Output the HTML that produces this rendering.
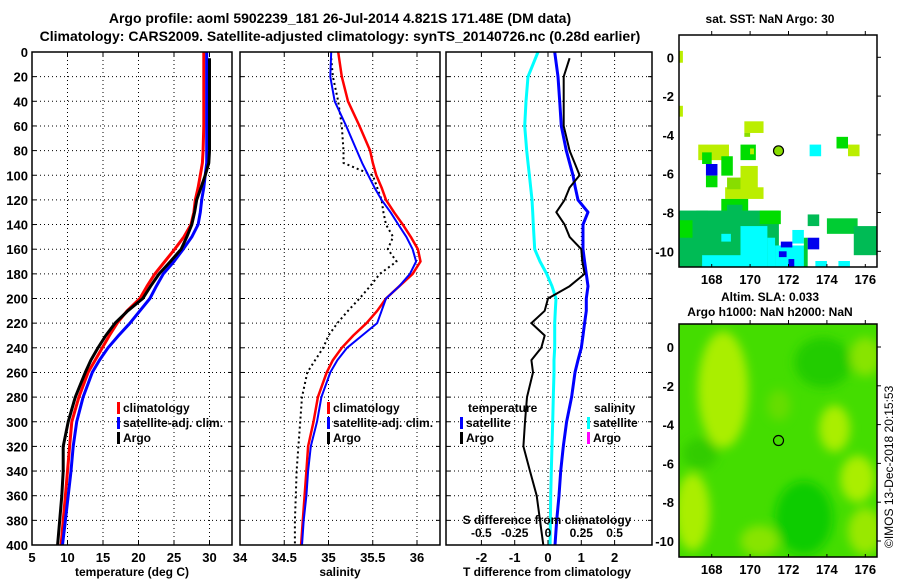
<!DOCTYPE html>
<html><head><meta charset="utf-8"><style>
body{margin:0;background:#fff}
svg{display:block;font-family:"Liberation Sans",sans-serif;font-weight:bold}
</style></head><body>
<svg id="fig" width="900" height="580" viewBox="0 0 900 580">
<rect width="900" height="580" fill="#fff"/>
<text x="340" y="23" font-size="14" text-anchor="middle">Argo profile: aoml 5902239_181 26-Jul-2014 4.821S 171.48E (DM data)</text>
<text x="340" y="41" font-size="14" text-anchor="middle">Climatology: CARS2009. Satellite-adjusted climatology: synTS_20140726.nc (0.28d earlier)</text>
<text x="770" y="23" font-size="12" text-anchor="middle">sat. SST: NaN Argo: 30</text>
<text x="770" y="301" font-size="12" text-anchor="middle">Altim. SLA: 0.033</text>
<text x="770" y="316" font-size="12" text-anchor="middle">Argo h1000: NaN h2000: NaN</text>
<text transform="translate(893,548) rotate(-90)" font-size="12" font-weight="normal">©IMOS 13-Dec-2018 20:15:53</text>
<g id="g"></g>
</svg>
<script>
// ---- data ----
const depths = [0,20,40,60,80,90,100,110,120,130,140,150,160,170,180,190,200,210,220,230,240,250,260,280,300,320,340,360,380,400];
const argoT = [30.0,30.0,30.0,30.0,30.0,29.9,29.4,28.8,28.2,27.9,27.5,26.8,26.0,24.5,22.9,21.7,20.6,18.5,16.7,15.4,14.3,13.3,12.5,11.1,10.1,9.4,9.4,9.2,8.9,8.6];
const climT = [29.2,29.2,29.2,29.2,29.1,29.0,28.7,28.4,28.0,27.8,27.4,26.4,25.1,23.7,22.3,21.2,20.2,18.4,17.0,15.9,14.9,13.9,12.9,11.6,10.6,10.3,10.0,9.7,9.4,9.1];
const satT = [29.6,29.6,29.6,29.6,29.6,29.6,29.4,29.2,28.9,28.7,28.4,27.5,26.3,25.0,23.5,22.5,21.6,20.2,18.8,17.2,15.7,14.5,13.5,12.2,11.3,10.8,10.5,10.1,9.7,9.3];
const climS = [35.11,35.15,35.22,35.35,35.47,35.5,35.54,35.6,35.65,35.74,35.84,35.93,36.01,36.04,35.95,35.8,35.65,35.55,35.43,35.28,35.15,35.05,34.98,34.88,34.83,34.77,34.75,34.73,34.71,34.69];
const satS = [35.03,35.02,35.07,35.2,35.32,35.38,35.45,35.52,35.6,35.7,35.79,35.88,35.95,35.99,35.92,35.8,35.65,35.6,35.55,35.38,35.21,35.1,35.02,34.92,34.87,34.8,34.77,34.75,34.72,34.7];
const argoS = [35.03,35.05,35.11,35.15,35.17,35.17,35.5,35.55,35.6,35.62,35.65,35.73,35.67,35.77,35.58,35.47,35.35,35.22,35.1,35.0,34.94,34.85,34.76,34.7,34.68,34.66,34.64,34.63,34.62,34.62];
const argoTdiff = [0.65,0.47,0.47,0.47,0.65,0.8,0.95,0.65,0.5,0.25,0.5,0.65,1.0,1.03,1.1,0.65,0.0,-0.1,-0.5,-0.1,-0.2,-0.5,-0.45,-0.63,-0.69,-0.74,-0.54,-0.34,-0.24,-0.14];
const satTdiff = [0.2,0.3,0.35,0.4,0.55,0.65,0.75,0.82,0.9,1.2,1.05,1.05,1.05,1.1,1.15,1.2,1.15,1.15,1.1,1.05,1.0,0.9,0.81,0.71,0.56,0.46,0.38,0.33,0.26,0.21];
const satSdiff = [-0.075,-0.15,-0.165,-0.175,-0.16,-0.15,-0.14,-0.13,-0.12,-0.115,-0.11,-0.105,-0.1,-0.06,-0.01,0.03,0.06,0.055,0.05,0.05,0.05,0.045,0.045,0.04,0.035,0.03,0.025,0.02,0.018,0.016];
const depthTicks = [0,20,40,60,80,100,120,140,160,180,200,220,240,260,280,300,320,340,360,380,400];
const tTicks = [5,10,15,20,25,30];
const sTicks = [34,34.5,35,35.5,36];
const dTTicks = [-2,-1,0,1,2];
const dSTicks = [-0.5,-0.25,0,0.25,0.5];
const dSLabels = ["-0.5","-0.25","0","0.25","0.5"];
const lonTicks = [168,170,172,174,176];
const latTicks = [0,-2,-4,-6,-8,-10];
const argoLon = 171.48, argoLat = -4.821;
const sstCells = [
[166.3,0.33,166.5,-0.28,'l'],[166.3,-2.5,166.5,-3.06,'l'],[169.7,-3.3,170.7,-3.9,'l'],[169.7,-3.9,170.0,-4.1,'m'],
[167.3,-4.5,168.9,-5.3,'l'],[167.5,-4.9,168.0,-5.5,'g'],[169.5,-4.5,170.3,-5.3,'g'],[170.0,-4.7,170.2,-5.0,'l'],
[167.7,-5.5,168.3,-6.1,'b'],[167.7,-6.1,168.3,-6.7,'g'],[168.5,-5.1,169.1,-6.1,'g'],[169.5,-5.6,170.4,-7.2,'l'],
[168.7,-6.7,170.7,-7.3,'l'],[168.8,-6.2,169.5,-6.8,'m'],[168.5,-7.3,169.9,-8.0,'g'],[168.8,-7.6,169.6,-8.0,'t'],
[173.1,-4.5,173.7,-5.1,'c'],[174.5,-4.1,175.1,-4.7,'g'],[175.1,-4.5,175.7,-5.1,'l'],
[166.3,-7.9,171.5,-10.85,'t'],[166.3,-8.4,167.0,-9.3,'g'],[170.5,-7.9,171.6,-8.6,'g'],[167.2,-7.9,167.8,-8.3,'t'],
[169.5,-8.7,170.9,-10.85,'c'],[170.9,-9.3,171.3,-10.85,'c'],[167.5,-10.2,169.5,-10.85,'c'],[171.3,-9.7,172.9,-10.85,'c'],
[168.5,-9.1,169.0,-9.5,'c'],[172.2,-8.9,172.8,-9.6,'c'],[172.8,-9.3,173.0,-10.85,'m2'],
[171.6,-9.5,172.2,-9.8,'b'],[173.0,-9.3,173.6,-9.9,'b'],[171.5,-10.0,171.9,-10.3,'b'],[172.0,-10.4,172.3,-10.85,'b'],
[173.0,-8.1,173.6,-8.7,'t'],[174.0,-8.3,175.6,-9.1,'m2'],[175.4,-8.7,177,-10.2,'t'],[173.4,-10.5,174.0,-10.85,'c'],[174.6,-10.5,175.2,-10.85,'c']
];
const sstColors = {l:'#bbee00',m:'#88dd00',g:'#00dd00',b:'#0000ee',c:'#00ffff',t:'#00bb55',m2:'#00cc33'};
const slaBlobs = [
[168.6,-2.2,1.3,3.0,'#aaee00'],[167,-8.5,0.9,2.0,'#aaee00'],[174.4,-4.2,0.8,1.2,'#aaee00'],[175.6,-6.8,0.9,1.2,'#aaee00'],
[172.8,-8.8,1.5,1.9,'#11cc00'],[173.8,-0.8,1.5,1.3,'#22cc00'],[171.5,-3,0.6,0.8,'#66dd00'],[167.4,-5.5,0.9,0.8,'#33cc00'],
[176,-0.5,0.8,1,'#88e400'],[170.5,-10,1.0,0.8,'#88e400'],[176,-9.5,0.9,1.2,'#99e800']
];

// ---- helpers ----
const NS='http://www.w3.org/2000/svg';
const root=document.getElementById('g');
function mk(tag,attrs,parent){const e=document.createElementNS(NS,tag);for(const k in attrs)e.setAttribute(k,attrs[k]);(parent||root).appendChild(e);return e;}
const Y0=52, Y1=545;
const yD = d => Y0 + d*(Y1-Y0)/400;
const panels = [
 {x0:32,x1:232},
 {x0:240,x1:440},
 {x0:446,x1:652}
];
const xT = v => 32 + (v-5)*7.1;
const xS = v => 240 + (v-34)*88.5;
const xDT = v => 548 + v*33.3;
const xDS = v => 548 + v*133.2;

function drawGridPanel(p,xfun,ticks,name){
  const g=mk('g',{});
  
  
  depthTicks.forEach(d=>{ if(d>0&&d<400){ mk('line',{x1:p.x0,x2:p.x1,y1:yD(d),y2:yD(d),stroke:'#000','stroke-width':1,'stroke-dasharray':'1 3'},g);
    mk('line',{x1:p.x0,x2:p.x0+4,y1:yD(d),y2:yD(d),stroke:'#000'},g); mk('line',{x1:p.x1-4,x2:p.x1,y1:yD(d),y2:yD(d),stroke:'#000'},g);} });
  ticks.forEach(t=>{const x=xfun(t); if(x>p.x0+1&&x<p.x1-1){ mk('line',{x1:x,x2:x,y1:Y0,y2:Y1,stroke:'#000','stroke-dasharray':'1 3'},g);
    mk('line',{x1:x,x2:x,y1:Y1-4,y2:Y1,stroke:'#000'},g); mk('line',{x1:x,x2:x,y1:Y0,y2:Y0+4,stroke:'#000'},g);} });
  return g;
}
function line(xfun,vals,ds,color,w,name,dash){
  const pts=vals.map((v,i)=>xfun(v).toFixed(1)+','+yD(ds[i]).toFixed(1)).join(' ');
  const a={points:pts,fill:'none',stroke:color,'stroke-width':w,'stroke-linejoin':'round'};
  if(dash)a['stroke-dasharray']=dash;
  const e=mk('polyline',a);
  
  
  return e;
}
function txt(x,y,s,size,anchor,name,parent){const e=mk('text',{x:x,y:y,'font-size':size,'text-anchor':anchor||'start'},parent);e.textContent=s;
  
  
  return e;}

const argoDepths = depths.map(d=>d===0?5:d);
// panel 1
drawGridPanel(panels[0],xT,tTicks,'temperature-grid');
line(xT,climT,depths,'#ff0000',3,'temp-climatology-line');
line(xT,satT,depths,'#0000ff',3,'temp-satellite-line');
line(xT,argoT,argoDepths,'#000000',3,'temp-argo-line');
// panel 2
drawGridPanel(panels[1],xS,sTicks,'salinity-grid');
line(xS,argoS,argoDepths,'#000000',2,'sal-argo-line','2 3');
line(xS,climS,depths,'#ff0000',2.5,'sal-climatology-line');
line(xS,satS,depths,'#0000ff',2,'sal-satellite-line');
// panel 3
drawGridPanel(panels[2],xDT,dTTicks,'difference-grid');
line(xDS,satSdiff,depths,'#00ffff',3,'sal-diff-satellite-line');
line(xDT,satTdiff,depths,'#0000ff',3,'temp-diff-satellite-line');
line(xDT,argoTdiff,argoDepths,'#000000',2,'temp-diff-argo-line');

panels.forEach((p,i)=>{const r=mk('rect',{x:p.x0,y:Y0,width:p.x1-p.x0,height:Y1-Y0,fill:'none',stroke:'#000','stroke-width':1.5});
  
  });

depthTicks.forEach(d=>txt(28,yD(d)+5,String(d),13,'end','depth-tick-label'));
tTicks.forEach(t=>txt(xT(t),562,String(t),13,'middle','temp-tick-label'));
sTicks.forEach(t=>txt(xS(t),562,String(t),13,'middle','sal-tick-label'));
dTTicks.forEach(t=>txt(xDT(t),562,String(t),13,'middle','tdiff-tick-label'));
dSTicks.forEach((t,i)=>txt(xDS(t),537,dSLabels[i],12,'middle','sdiff-tick-label'));
txt(547,524,'S difference from climatology',12,'middle','sdiff-axis-title');
txt(132,576,'temperature (deg C)',12,'middle','temp-axis-title');
txt(340,576,'salinity',12,'middle','sal-axis-title');
txt(547,576,'T difference from climatology',12,'middle','tdiff-axis-title');

function legend(x,y,items,name){const g=mk('g',{});
  
  
  items.forEach((it,i)=>{ if(it[1]) mk('rect',{x:x,y:y+i*15-10,width:3,height:12,fill:it[1]},g);
    txt(x+(it[1]?6:0),y+i*15,it[0],12,'start','legend-entry',g);});}
legend(117,412,[['climatology','#ff0000'],['satellite-adj. clim.','#0000ff'],['Argo','#000']],'temp-legend');
legend(327,412,[['climatology','#ff0000'],['satellite-adj. clim.','#0000ff'],['Argo','#000']],'sal-legend');
legend(468,412,[['temperature',null]],'tdiff-legend-title');
legend(460,427,[['satellite','#0000ff'],['Argo','#000']],'tdiff-legend');
legend(594,412,[['salinity',null]],'sdiff-legend-title');
legend(587,427,[['satellite','#00ffff'],['Argo','#ff00ff']],'sdiff-legend');

// maps
const MX0=679,MX1=877;
const lonX = l => 711.7 + (l-168)*19.2;
function mapAxes(top,bottom,lat0,name){
  const ly = l => lat0 - l*19.4;
  const g=mk('g',{});
  
  
  mk('rect',{x:MX0,y:top,width:MX1-MX0,height:bottom-top,fill:'none',stroke:'#000','stroke-width':1.5},g);
  lonTicks.forEach(l=>{const x=lonX(l);mk('line',{x1:x,x2:x,y1:top-4,y2:top,stroke:'#000'},g);mk('line',{x1:x,x2:x,y1:bottom,y2:bottom-3,stroke:'#000'},g);
    txt(x,bottom+17,String(l),13,'middle','lon-tick-label',g);});
  latTicks.forEach(l=>{const y=ly(l);mk('line',{x1:MX1,x2:MX1+4,y1:y,y2:y,stroke:'#000'},g);
    txt(MX0-5,y+5,String(l),13,'end','lat-tick-label',g);});
  return ly;
}
const sstTop=35,sstBot=267,sstLat0=57.3;
const lyS = l => sstLat0 - l*19.4;
const defs=mk('defs',{});
const c1=mk('clipPath',{id:'c1'},defs);mk('rect',{x:MX0,y:sstTop,width:MX1-MX0,height:sstBot-sstTop},c1);
const c2=mk('clipPath',{id:'c2'},defs);mk('rect',{x:MX0,y:324,width:MX1-MX0,height:233},c2);
const f=mk('filter',{id:'bl',x:'-50%',y:'-50%',width:'200%',height:'200%'},defs);mk('feGaussianBlur',{stdDeviation:5},f);
const sg=mk('g',{'clip-path':'url(#c1)'});


sstCells.forEach(c=>{const x0=lonX(c[0]),x1=lonX(c[2]),y0=lyS(c[1]),y1=lyS(c[3]);
  const r=mk('rect',{x:x0,y:y0,width:x1-x0,height:y1-y0,fill:sstColors[c[4]]},sg);
  
  });
const d1=mk('circle',{cx:lonX(argoLon),cy:lyS(argoLat),r:5,fill:'#88dd00',stroke:'#000','stroke-width':1.2});


mapAxes(sstTop,sstBot,sstLat0,'sst-map-axes');
const lyA = l => 347 - l*19.4;
const ag=mk('g',{'clip-path':'url(#c2)'});


mk('rect',{x:MX0,y:324,width:MX1-MX0,height:233,fill:'#44dd00'},ag);
const bg=mk('g',{filter:'url(#bl)'},ag);
slaBlobs.forEach(b=>{const e=mk('ellipse',{cx:lonX(b[0]),cy:lyA(b[1]),rx:b[2]*19.2,ry:b[3]*19.4,fill:b[4]},bg);
  
  });
const d2=mk('circle',{cx:lonX(argoLon),cy:lyA(argoLat),r:5,fill:'none',stroke:'#000','stroke-width':1.2});


mapAxes(324,557,347,'sla-map-axes');
</script>
</body></html>
